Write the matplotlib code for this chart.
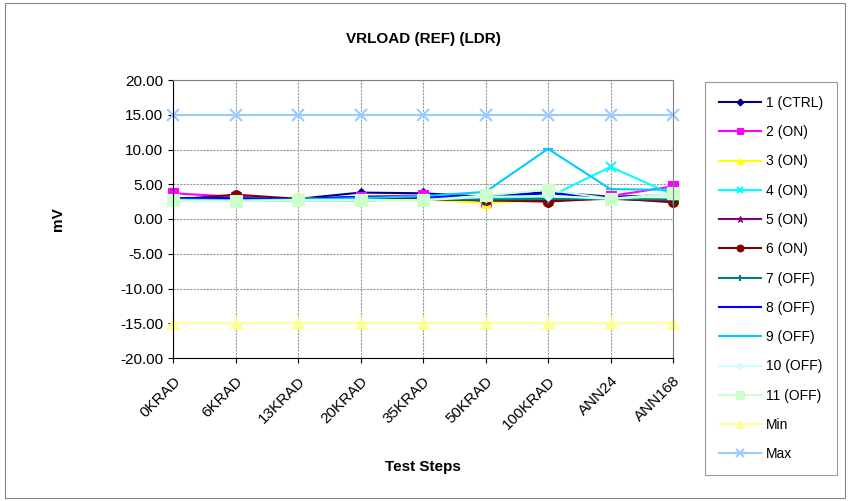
import matplotlib
matplotlib.use('Agg')
import matplotlib.pyplot as plt
from matplotlib.patches import Rectangle

plt.rcParams['font.family'] = ['Liberation Sans', 'DejaVu Sans']

steps = ['0KRAD', '6KRAD', '13KRAD', '20KRAD', '35KRAD', '50KRAD', '100KRAD', 'ANN24', 'ANN168']

s1 = [3.0, 3.0, 2.9, 3.8, 3.7, 3.2, 3.9, 3.2, 3.4]
s2 = [3.7, 3.2, 2.9, 3.2, 3.4, 2.5, 2.7, 3.3, 4.7]
s3 = [2.8, 2.9, 3.1, 2.8, 2.8, 2.3, 2.8, 2.9, 2.7]
s4 = [2.8, 2.7, 2.8, 2.9, 2.9, 3.0, 3.1, 7.5, 3.5]
s5 = [2.6, 2.7, 2.8, 2.7, 2.8, 2.7, 2.7, 2.9, 2.6]
s6 = [2.8, 3.5, 2.9, 2.8, 2.9, 2.7, 2.5, 3.0, 2.4]
s7 = [2.6, 2.6, 2.7, 2.7, 2.8, 2.8, 2.9, 2.9, 2.8]
s8 = [3.0, 3.0, 2.9, 3.2, 3.2, 3.2, 3.7, 3.1, 3.5]
s9 = [2.8, 2.7, 2.8, 3.0, 3.3, 3.9, 10.1, 4.3, 4.2]
s10 = [2.6, 2.6, 2.7, 2.7, 2.7, 3.2, 3.3, 2.9, 3.4]
s11 = [2.7, 2.6, 2.7, 2.7, 2.7, 3.4, 4.2, 2.9, 3.7]
vmin = [-15.0] * 9
vmax = [15.0] * 9

names = ['1 (CTRL)', '2 (ON)', '3 (ON)', '4 (ON)', '5 (ON)', '6 (ON)', '7 (OFF)',
         '8 (OFF)', '9 (OFF)', '10 (OFF)', '11 (OFF)', 'Min', 'Max']
series = [s1, s2, s3, s4, s5, s6, s7, s8, s9, s10, s11, vmin, vmax]
colors = ['#000080', '#FF00FF', '#FFFF00', '#00FFFF', '#800080', '#800000', '#008080',
          '#0000FF', '#00CCFF', '#CCFFFF', '#CCFFCC', '#FFFF99', '#99CCFF']
markers = ['D', 's', '^', 'x', '*', 'o', '+', '_', '_', 'D', 's', '^', 'x']
msizes = [5, 7, 7, 7, 7, 7, 7, 7, 7, 5, 9, 9, 9]

fig = plt.figure(figsize=(8.5, 5.01), dpi=100)
fig.patches.append(Rectangle((0.006, 0.006), 0.988, 0.988, transform=fig.transFigure,
                             fill=False, edgecolor='#888888', linewidth=0.8))
ax = fig.add_axes([173 / 850, 1 - 358 / 501, 500 / 850, 278 / 501])

x = range(len(steps))
for name, vals, c, m, ms in zip(names, series, colors, markers, msizes):
    ax.plot(x, vals, color=c, marker=m, markersize=ms, linewidth=1.5, label=name,
            markeredgewidth=1.5 if m in ('x', '+', '_') else 0.8, clip_on=False)

ax.set_xlim(0, len(steps) - 1)
ax.set_ylim(-20, 20)
ax.set_yticks(range(-20, 21, 5))
ax.set_yticklabels(['%.2f' % v for v in range(-20, 21, 5)], fontsize=11)
ax.set_xticks(list(x))
ax.set_xticklabels(steps, rotation=45, ha='right', rotation_mode='anchor', fontsize=11)
ax.tick_params(axis='x', pad=8)
ax.grid(True, color='#999999', linestyle=(0, (2, 1)), linewidth=0.8)
for side in ['top', 'right']:
    ax.spines[side].set_color('#808080')
ax.spines['left'].set_color('black')
ax.spines['bottom'].set_color('black')

ax.set_title('VRLOAD (REF) (LDR)', fontsize=11, fontweight='bold', pad=27)
ax.set_ylabel('mV', fontsize=11, fontweight='bold', labelpad=40)
ax.set_xlabel('Test Steps', fontsize=11, fontweight='bold', labelpad=20)

leg = fig.legend(loc='upper left', bbox_to_anchor=(705 / 850, 1 - 82 / 501), fontsize=10,
                 frameon=True, fancybox=False, edgecolor='#808080', labelspacing=1.1,
                 handlelength=3.0, handletextpad=0.4, borderpad=1.0, borderaxespad=0,
                 markerscale=0.7)
leg.get_frame().set_linewidth(0.8)

fig.savefig('out.png', dpi=100)
